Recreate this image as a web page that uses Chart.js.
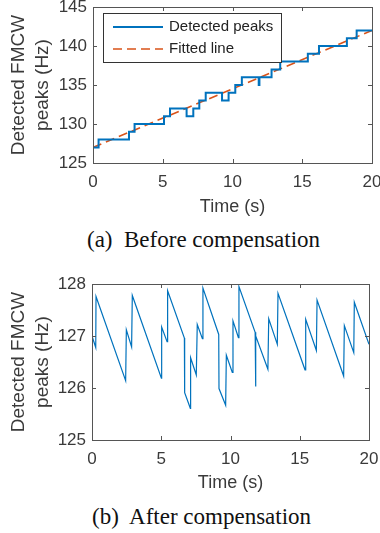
<!DOCTYPE html>
<html>
<head>
<meta charset="utf-8">
<script src="https://cdn.jsdelivr.net/npm/chart.js@4.4.1/dist/chart.umd.min.js"></script>
<style>
body { margin:0; width:380px; height:533px; background:#fff; position:relative; overflow:hidden; }
canvas { position:absolute; left:0; }
.cap { position:absolute; font-family:'Liberation Serif','Times New Roman',serif; font-size:23px; color:#111; white-space:nowrap; line-height:26px; }
</style>
</head>
<body>
<canvas id="before" width="380" height="220" style="top:0"></canvas>
<div class="cap" style="left:87px;top:227px">(a)&nbsp; Before compensation</div>
<canvas id="after" width="380" height="245" style="top:250px"></canvas>
<div class="cap" style="left:92px;top:504px">(b)&nbsp; After compensation</div>
<script>
// (a) detected peaks, step changes (time in s, peak in Hz)
const stepTimes  = [0, 0.4, 2.58, 2.98, 5.09, 5.52, 6.71, 7.19, 7.62, 8.08, 9.25, 9.72, 10.2, 10.67, 11.88, 11.93, 12.8, 13.42, 15.4, 16.2, 18.2, 18.9, 20];
const stepValues = [127, 128, 129, 130, 131, 132, 131, 132, 133, 134, 133, 134, 135, 136, 135, 136, 137, 138, 139, 140, 141, 142, 142];

// (a) fitted line end points
const fitTimes  = [0, 20];
const fitValues = [127.0, 142.0];

// (b) after compensation, vertices of the sawtooth
const compTimes  = [0, 0.27, 0.29, 2.43, 2.48, 2.86, 2.91, 5.01, 5.03, 5.42, 5.46, 6.67, 6.69, 7.1, 7.12, 7.53, 7.6, 7.97, 8.01,
                    9.15, 9.17, 9.65, 9.7, 10.13, 10.18, 10.57, 10.61, 11.78, 11.81, 11.83, 12.7, 12.76, 13.38, 13.43,
                    15.38, 15.43, 16.2, 16.25, 18.17, 18.22, 18.9, 18.94, 20];
const compValues = [127.0, 126.78, 127.76, 126.14, 127.12, 126.79, 127.78, 126.19, 127.17, 126.89, 127.87, 126.96, 125.91, 125.61, 126.58, 126.25, 127.22, 126.95, 127.92,
                    127.03, 125.99, 125.67, 126.63, 126.3, 127.29, 126.97, 127.95, 127.07, 126.03, 127.0, 126.36, 127.33, 126.84, 127.82,
                    126.35, 127.32, 126.72, 127.69, 126.23, 127.2, 126.68, 127.65, 126.84];

const xTicks = [0, 5, 10, 15, 20];
const yTicksA = [125, 130, 135, 140, 145];
const yTicksB = [125, 126, 127, 128];

const SANS = '"Liberation Sans", Arial, sans-serif';
const BLUE = '#0072BD';
const RED = '#D95319';
const TXT = '#3a3a3a';

function pts(xs, ys) {
  return xs.map((x, i) => ({ x: x, y: ys[i] }));
}

// box round the plot with inward ticks, like matlab
const boxPlugin = {
  id: 'box',
  afterDraw(chart) {
    const ctx = chart.ctx;
    const a = chart.chartArea;
    const xs = chart.scales.x, ys = chart.scales.y;
    ctx.save();
    ctx.strokeStyle = '#555';
    ctx.lineWidth = 1;
    ctx.beginPath();
    xs.ticks.forEach(t => {
      const px = Math.round(xs.getPixelForValue(t.value)) + 0.5;
      ctx.moveTo(px, a.bottom); ctx.lineTo(px, a.bottom - 4);
      ctx.moveTo(px, a.top); ctx.lineTo(px, a.top + 4);
    });
    ys.ticks.forEach(t => {
      const py = Math.round(ys.getPixelForValue(t.value)) + 0.5;
      ctx.moveTo(a.left, py); ctx.lineTo(a.left + 4, py);
      ctx.moveTo(a.right, py); ctx.lineTo(a.right - 4, py);
    });
    ctx.stroke();
    ctx.strokeRect(Math.round(a.left) + 0.5, Math.round(a.top) + 0.5,
                   Math.round(a.right - a.left), Math.round(a.bottom - a.top));
    ctx.restore();
  }
};

// legend box inside the top plot
const legendBox = {
  id: 'legendBox',
  afterDraw(chart) {
    const ctx = chart.ctx;
    ctx.save();
    ctx.fillStyle = '#fff';
    ctx.fillRect(103, 13, 178, 49);
    ctx.strokeStyle = '#333';
    ctx.lineWidth = 1;
    ctx.strokeRect(103.5, 13.5, 178, 49);
    chart.data.datasets.forEach((ds, i) => {
      const y = 27 + i * 22;
      ctx.strokeStyle = ds.borderColor;
      ctx.lineWidth = ds.borderWidth;
      ctx.setLineDash(ds.borderDash || []);
      ctx.beginPath();
      ctx.moveTo(113, y);
      ctx.lineTo(163, y);
      ctx.stroke();
      ctx.setLineDash([]);
      ctx.fillStyle = '#222';
      ctx.font = '15px ' + SANS;
      ctx.textBaseline = 'middle';
      ctx.fillText(ds.label, 169, y);
    });
    ctx.restore();
  }
};

function makeOptions(yTicks, leftW, xH, pad, titlePadB) {
  return {
    responsive: false,
    animation: false,
    layout: { padding: pad },
    plugins: { legend: { display: false }, tooltip: { enabled: false } },
    elements: { point: { radius: 0 } },
    scales: {
      x: {
        type: 'linear',
        min: 0, max: 20,
        afterFit: s => { s.height = xH; s.paddingLeft = 0; s.paddingRight = 0; },
        afterBuildTicks: s => { s.ticks = xTicks.map(v => ({ value: v })); },
        grid: { display: false, drawTicks: false },
        border: { display: false },
        ticks: { font: { family: SANS, size: 17 }, color: TXT, padding: 9, maxRotation: 0 },
        title: { display: true, text: 'Time (s)', color: TXT,
                 font: { family: SANS, size: 18 }, padding: { top: 0, bottom: titlePadB } }
      },
      y: {
        min: yTicks[0], max: yTicks[yTicks.length - 1],
        afterFit: s => { s.width = leftW; s.paddingTop = 0; s.paddingBottom = 0; },
        afterBuildTicks: s => { s.ticks = yTicks.map(v => ({ value: v })); },
        grid: { display: false, drawTicks: false },
        border: { display: false },
        ticks: { font: { family: SANS, size: 17 }, color: TXT, padding: 6 },
        title: { display: true, text: ['Detected FMCW', 'peaks (Hz)'], color: TXT,
                 font: { family: SANS, size: 19, lineHeight: 1.26 }, padding: { top: 7, bottom: 0 } }
      }
    }
  };
}

new Chart(document.getElementById('before'), {
  type: 'line',
  data: {
    datasets: [
      {
        label: 'Detected peaks',
        data: pts(stepTimes, stepValues),
        stepped: 'before',
        borderColor: BLUE,
        borderWidth: 2,
        fill: false
      },
      {
        label: 'Fitted line',
        data: pts(fitTimes, fitValues),
        borderColor: RED,
        borderWidth: 1.6,
        borderDash: [9, 5],
        fill: false
      }
    ]
  },
  options: makeOptions(yTicksA, 93, 57, { top: 7, right: 8, left: 0, bottom: 0 }, 2),
  plugins: [boxPlugin, legendBox]
});

new Chart(document.getElementById('after'), {
  type: 'line',
  data: {
    datasets: [
      {
        label: 'Compensated peaks',
        data: pts(compTimes, compValues),
        borderColor: BLUE,
        borderWidth: 1.2,
        fill: false
      }
    ]
  },
  options: makeOptions(yTicksB, 92, 55, { top: 34, right: 11, left: 0, bottom: 0 }, 1),
  plugins: [boxPlugin]
});
</script>
</body>
</html>
